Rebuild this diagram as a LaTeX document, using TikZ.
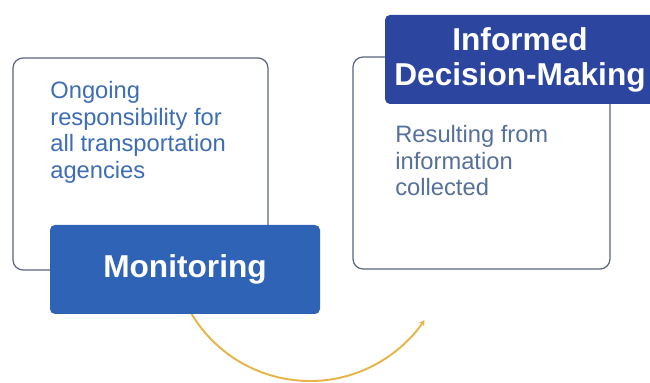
\documentclass[tikz,border=0pt]{standalone}
\usepackage{fontspec}
\setmainfont{Liberation Sans}
\usetikzlibrary{arrows.meta, positioning}

\definecolor{monblue}{HTML}{2F63B6}
\definecolor{decblue}{HTML}{2C469F}
\definecolor{frame}{HTML}{5A6580}
\definecolor{lefttext}{HTML}{3D6DB5}
\definecolor{righttext}{HTML}{56709C}
\definecolor{cyclegold}{HTML}{E6B548}

\begin{document}
\begin{tikzpicture}[
		panel/.style={draw=frame, line width=0.7pt, rounded corners=0.2cm, fill=white, minimum width=5.1cm, minimum height=4.24cm, inner sep=0},
		title/.style={fill=#1, rounded corners=0.1cm, minimum width=5.4cm, minimum height=1.78cm, text=white, font=\fontsize{18}{20}\selectfont\bfseries, align=center, inner sep=0},
		body/.style={anchor=north west, inner sep=0, align=left, font=\fontsize{13.5}{15.1}\selectfont}
	]
	\clip (0,0) rectangle (13,7.66);
	\fill[white] (0,0) rectangle (13,7.66);

	% Kreisbogen unter den Kaesten
	\coordinate (hub) at (6.2,2.8);
	\draw[cyclegold, line width=1.1pt, -{Stealth[length=3pt, width=3.5pt]}] (hub) ++(210:2.76) arc (210:326:2.76);

	% linker Kasten
	\node[panel] (leftpanel) at (2.81,4.38) {};
	\node[body, text=lefttext] (lefttxt) at (1.0,6.04) {Ongoing\\responsibility for\\all transportation\\agencies};
	\node[title=monblue] (monitoring) at (3.7,2.27) {Monitoring};

	% rechter Kasten
	\node[panel, minimum width=5.14cm] (rightpanel) at (9.63,4.4) {};
	\node[body, text=righttext] (righttxt) at (7.9,5.16) {Resulting from\\information\\collected};
	\node[title=decblue] (decision) at (10.4,6.47) {Informed\\Decision-Making};
\end{tikzpicture}
\end{document}
